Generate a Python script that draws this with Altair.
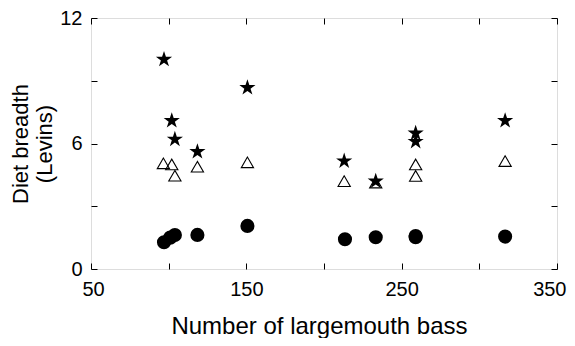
import altair as alt
import pandas as pd

# Data
star_x = [97, 102, 104, 118.5, 150.7, 213, 233.3, 259, 259, 316.6]
star_y = [10.02, 7.09, 6.2, 5.61, 8.67, 5.16, 4.2, 6.49, 6.09, 7.09]

tri_x = [96.6, 102, 104, 118.5, 150.7, 213, 233.3, 259, 259, 316.6]
tri_y = [5.05, 5.0, 4.46, 4.89, 5.1, 4.2, 4.13, 5.0, 4.45, 5.16]

circ_x = [97, 101, 104, 118.5, 150.7, 213.5, 233.3, 259, 259, 316.6]
circ_y = [1.28, 1.5, 1.62, 1.63, 2.06, 1.42, 1.52, 1.52, 1.58, 1.55]

x_ticks = [50, 100, 150, 200, 250, 300, 350]
y_ticks = [0, 3, 6, 9, 12]

FONT = "Liberation Sans"

stars = pd.DataFrame({"x": star_x, "y": star_y})
tris = pd.DataFrame({"x": tri_x, "y": tri_y})
circs = pd.DataFrame({"x": circ_x, "y": circ_y})

STAR = ("M0,-1 L0.2245,-0.309 L0.951,-0.309 L0.363,0.118 L0.588,0.809 "
        "L0,0.382 L-0.588,0.809 L-0.363,0.118 L-0.951,-0.309 L-0.2245,-0.309 Z")

xscale = alt.Scale(domain=[50, 350], nice=False, zero=False)
yscale = alt.Scale(domain=[0, 12], nice=False, zero=False)

x_axis = alt.Axis(values=x_ticks, orient="bottom", domain=False, grid=False,
                  tickSize=6, offset=-6, tickColor="black", tickWidth=1,
                  labelExpr="datum.value % 100 == 50 ? datum.label : ''",
                  labelFont=FONT, labelFontSize=20, labelColor="black",
                  labelFlush=True, labelFlushOffset=9, labelOverlap=False,
                  labelPadding=10, title="Number of largemouth bass",
                  titleFont=FONT, titleFontSize=24, titleFontWeight="normal",
                  titleColor="black", titlePadding=15, titleX=228)
y_axis = alt.Axis(values=y_ticks, orient="left", domain=False, grid=False,
                  tickSize=6, offset=-6, tickColor="black", tickWidth=1,
                  labelExpr="datum.value % 6 == 0 ? datum.label : ''",
                  labelFont=FONT, labelFontSize=20, labelColor="black",
                  labelFlush=False, labelOverlap=False,
                  labelPadding=9, title=["Diet breadth", "(Levins)"],
                  titleFont=FONT, titleFontSize=22, titleFontWeight="normal",
                  titleColor="black", titlePadding=3, titleLineHeight=24)

x_axis_top = alt.Axis(values=x_ticks, orient="top", domain=False, grid=False,
                      tickSize=6, offset=-6, tickColor="black", labels=False, title=None)
y_axis_right = alt.Axis(values=y_ticks, orient="right", domain=False, grid=False,
                        tickSize=6, offset=-6, tickColor="black", labels=False, title=None)

circ_layer = alt.Chart(circs).mark_point(
    shape="circle", filled=True, color="black", size=200, opacity=1
).encode(
    x=alt.X("x:Q", scale=xscale, axis=x_axis),
    y=alt.Y("y:Q", scale=yscale, axis=y_axis),
)

tri_layer = alt.Chart(tris).mark_point(
    shape="triangle-up", filled=False, stroke="black", strokeWidth=1.1, size=150, opacity=1
).encode(
    x=alt.X("x:Q", scale=xscale, axis=x_axis_top),
    y=alt.Y("y:Q", scale=yscale, axis=y_axis_right),
)

star_layer = alt.Chart(stars).mark_point(
    shape=STAR, filled=True, color="black", size=290, opacity=1
).encode(
    x=alt.X("x:Q", scale=xscale, axis=None),
    y=alt.Y("y:Q", scale=yscale, axis=None),
)

chart = alt.layer(circ_layer, tri_layer, star_layer).resolve_axis(
    x="independent", y="independent"
).properties(
    width=466, height=251,
    autosize=alt.AutoSizeParams(type="none"),
    padding={"left": 83, "top": 10, "right": 10, "bottom": 69},
).configure_view(
    stroke="black", strokeWidth=1
).configure(background="white")

chart.save("out.html", embed_options={"renderer": "svg", "actions": False})
